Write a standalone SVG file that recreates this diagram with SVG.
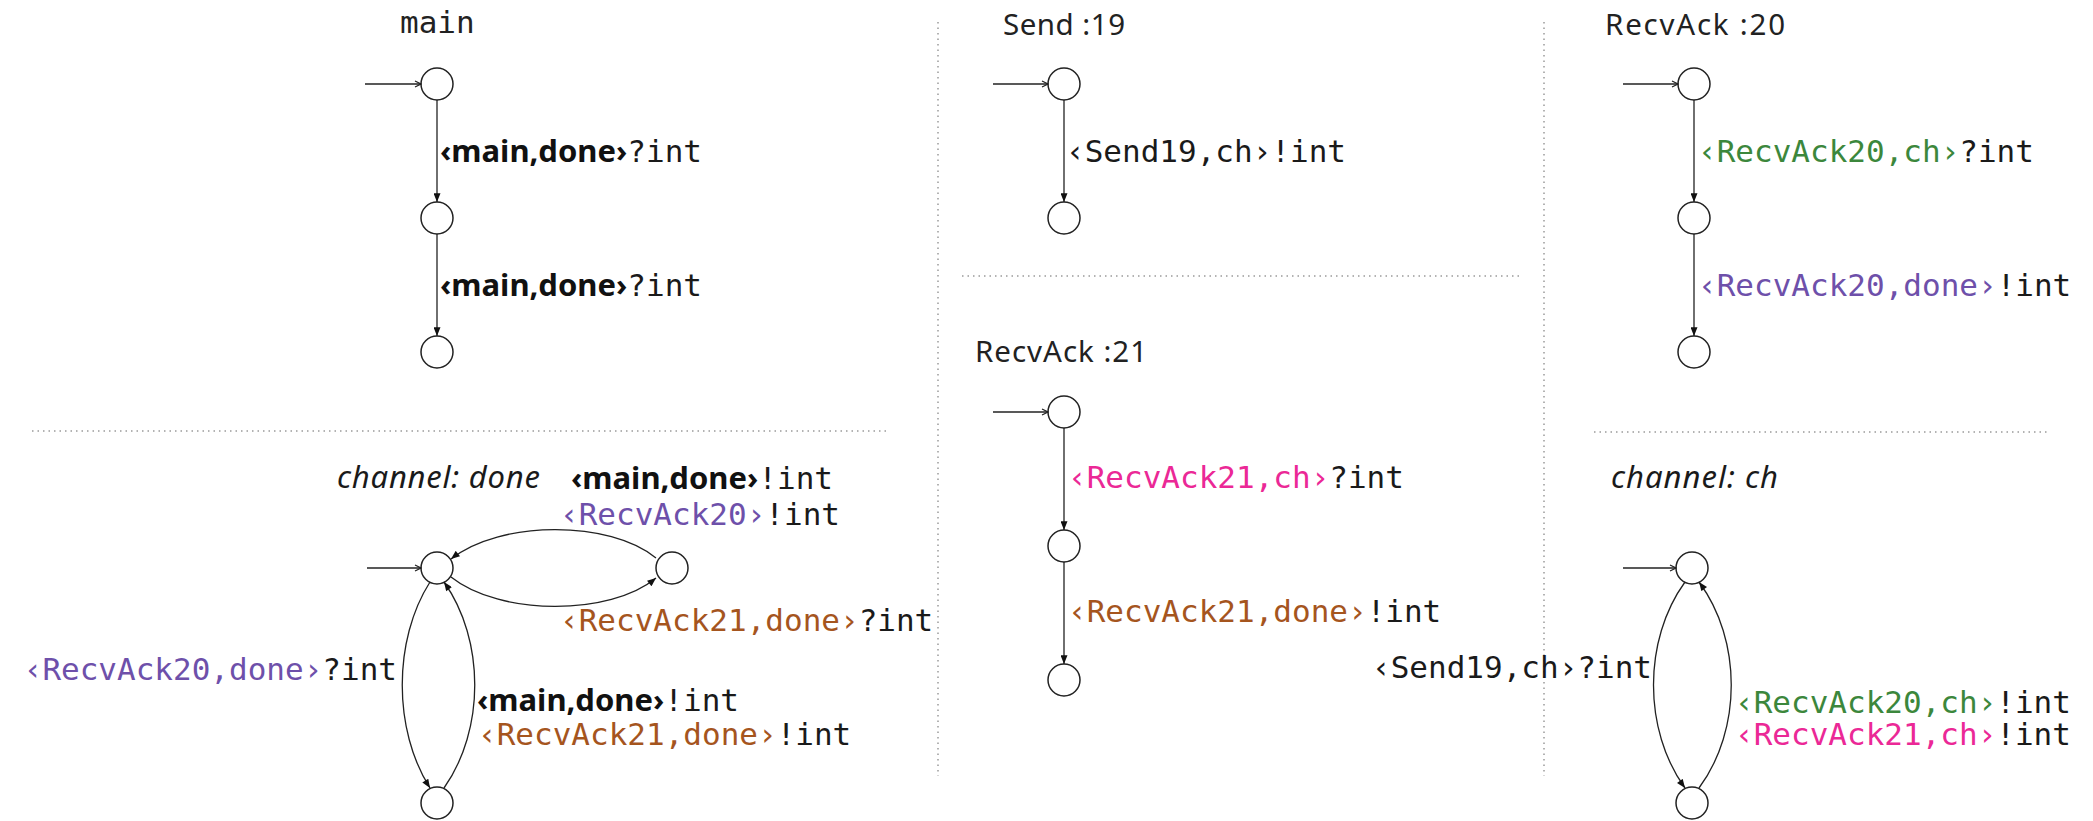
<svg xmlns="http://www.w3.org/2000/svg" width="2093" height="821" viewBox="0 0 2093 821">
  <style>
    .bg { fill: #ffffff; }
    .sep { stroke: #9a9a9a; stroke-width: 1.5; stroke-dasharray: 1.5 4; fill: none; }
    .state { fill: #ffffff; stroke: #222222; stroke-width: 1.5; }
    .edge { fill: none; stroke: #222222; stroke-width: 1.3; }
    .init { fill: none; stroke: #222222; stroke-width: 1.3; }
    .lbl { font-family: "DejaVu Sans Mono", "Liberation Mono", monospace; font-size: 31px; fill: #1a1a1a; }
    .b { font-family: "Noto Sans", "DejaVu Sans", sans-serif; font-weight: bold; font-size: 31px; fill: #111111; }
    .title { font-family: "Noto Sans", "DejaVu Sans", sans-serif; font-size: 29.5px; fill: #222222; }
    .mtitle { font-family: "DejaVu Sans Mono", "Liberation Mono", monospace; font-size: 31px; fill: #222222; }
    .ital { font-family: "Noto Sans", "DejaVu Sans", sans-serif; font-style: italic; font-size: 31px; fill: #1a1a1a; }
    .pur { fill: #6e50aa; }
    .grn { fill: #3c873c; }
    .pnk { fill: #eb2896; }
    .brn { fill: #a5551e; }
  </style>
  <defs>
    <marker id="ah" viewBox="0 0 10 8" refX="10" refY="4" markerWidth="10" markerHeight="7" markerUnits="userSpaceOnUse" orient="auto">
      <path d="M0,0 L10,4 L0,8 z" fill="#111111"/>
    </marker>
    <marker id="open" viewBox="0 0 8 8" refX="7" refY="4" markerWidth="8" markerHeight="8" markerUnits="userSpaceOnUse" orient="auto">
      <path d="M1,1 L7,4 L1,7" fill="none" stroke="#222222" stroke-width="1.2"/>
    </marker>
  </defs>

  <rect class="bg" x="0" y="0" width="2093" height="821"/>

  <!-- panel separators -->
  <g id="separators">
    <line class="sep" x1="32" y1="431" x2="890" y2="431"/>
    <line class="sep" x1="938" y1="22" x2="938" y2="776"/>
    <line class="sep" x1="962" y1="276" x2="1519" y2="276"/>
    <line class="sep" x1="1544" y1="22" x2="1544" y2="776"/>
    <line class="sep" x1="1594" y1="432" x2="2050" y2="432"/>
  </g>

  <!-- panel titles -->
  <g id="titles">
    <text class="mtitle" x="400" y="33">main</text>
    <text class="title" x="1003" y="35" textLength="122" lengthAdjust="spacing">Send :19</text>
    <text class="title" x="1605" y="35" textLength="180" lengthAdjust="spacing">RecvAck :20</text>
    <text class="title" x="975" y="362" textLength="172" lengthAdjust="spacing">RecvAck :21</text>
    <text class="ital" x="337" y="488" textLength="203" lengthAdjust="spacing">channel: done</text>
    <text class="ital" x="1611" y="488" textLength="167" lengthAdjust="spacing">channel: ch</text>
  </g>

  <!-- states -->
  <g id="main-s0"><circle class="state" cx="437" cy="84" r="16"/></g>
  <g id="main-s1"><circle class="state" cx="437" cy="218" r="16"/></g>
  <g id="main-s2"><circle class="state" cx="437" cy="352" r="16"/></g>

  <g id="send19-s0"><circle class="state" cx="1064" cy="84" r="16"/></g>
  <g id="send19-s1"><circle class="state" cx="1064" cy="218" r="16"/></g>

  <g id="recvack20-s0"><circle class="state" cx="1694" cy="84" r="16"/></g>
  <g id="recvack20-s1"><circle class="state" cx="1694" cy="218" r="16"/></g>
  <g id="recvack20-s2"><circle class="state" cx="1694" cy="352" r="16"/></g>

  <g id="recvack21-s0"><circle class="state" cx="1064" cy="412" r="16"/></g>
  <g id="recvack21-s1"><circle class="state" cx="1064" cy="546" r="16"/></g>
  <g id="recvack21-s2"><circle class="state" cx="1064" cy="680" r="16"/></g>

  <g id="done-s0"><circle class="state" cx="437" cy="568" r="16"/></g>
  <g id="done-s1"><circle class="state" cx="672" cy="568" r="16"/></g>
  <g id="done-s2"><circle class="state" cx="437" cy="803" r="16"/></g>

  <g id="ch-s0"><circle class="state" cx="1692" cy="568" r="16"/></g>
  <g id="ch-s1"><circle class="state" cx="1692" cy="803" r="16"/></g>

  <!-- transitions -->
  <g id="connectors">
    <!-- initial-state arrows -->
    <line class="init" x1="365" y1="84" x2="421" y2="84" marker-end="url(#open)"/>
    <line class="init" x1="993" y1="84" x2="1048" y2="84" marker-end="url(#open)"/>
    <line class="init" x1="1623" y1="84" x2="1678" y2="84" marker-end="url(#open)"/>
    <line class="init" x1="993" y1="412" x2="1048" y2="412" marker-end="url(#open)"/>
    <line class="init" x1="367" y1="568" x2="421" y2="568" marker-end="url(#open)"/>
    <line class="init" x1="1623" y1="568" x2="1676" y2="568" marker-end="url(#open)"/>

    <!-- main -->
    <line class="edge" x1="437" y1="100" x2="437" y2="202" marker-end="url(#ah)"/>
    <line class="edge" x1="437" y1="234" x2="437" y2="336" marker-end="url(#ah)"/>
    <!-- Send :19 -->
    <line class="edge" x1="1064" y1="100" x2="1064" y2="202" marker-end="url(#ah)"/>
    <!-- RecvAck :20 -->
    <line class="edge" x1="1694" y1="100" x2="1694" y2="202" marker-end="url(#ah)"/>
    <line class="edge" x1="1694" y1="234" x2="1694" y2="336" marker-end="url(#ah)"/>
    <!-- RecvAck :21 -->
    <line class="edge" x1="1064" y1="428" x2="1064" y2="530" marker-end="url(#ah)"/>
    <line class="edge" x1="1064" y1="562" x2="1064" y2="664" marker-end="url(#ah)"/>

    <!-- channel: done -->
    <path class="edge" d="M656,558 C610,520 500,520 451,559" marker-end="url(#ah)"/>
    <path class="edge" d="M451,577 C500,616 610,616 656,578" marker-end="url(#ah)"/>
    <path class="edge" d="M430,582 C393,640 393,730 430,788" marker-end="url(#ah)"/>
    <path class="edge" d="M444,788 C485,730 485,640 444,582" marker-end="url(#ah)"/>

    <!-- channel: ch -->
    <path class="edge" d="M1685,582 C1643,640 1643,730 1685,788" marker-end="url(#ah)"/>
    <path class="edge" d="M1699,788 C1742,730 1742,640 1699,582" marker-end="url(#ah)"/>
  </g>

  <!-- transition labels -->
  <g id="labels">
    <text class="lbl" x="440" y="162"><tspan class="b">‹main,done›</tspan>?int</text>
    <text class="lbl" x="440" y="296"><tspan class="b">‹main,done›</tspan>?int</text>

    <text class="lbl" x="1066" y="162">‹Send19,ch›!int</text>

    <text class="lbl" x="1698" y="162"><tspan class="grn">‹RecvAck20,ch›</tspan>?int</text>
    <text class="lbl" x="1698" y="296"><tspan class="pur">‹RecvAck20,done›</tspan>!int</text>

    <text class="lbl" x="1068" y="488"><tspan class="pnk">‹RecvAck21,ch›</tspan>?int</text>
    <text class="lbl" x="1068" y="622"><tspan class="brn">‹RecvAck21,done›</tspan>!int</text>

    <text class="lbl" x="571" y="489"><tspan class="b">‹main,done›</tspan>!int</text>
    <text class="lbl" x="560" y="525"><tspan class="pur">‹RecvAck20›</tspan>!int</text>
    <text class="lbl" x="560" y="631"><tspan class="brn">‹RecvAck21,done›</tspan>?int</text>
    <text class="lbl" x="397" y="680" text-anchor="end"><tspan class="pur">‹RecvAck20,done›</tspan>?int</text>
    <text class="lbl" x="477" y="711"><tspan class="b">‹main,done›</tspan>!int</text>
    <text class="lbl" x="478" y="745"><tspan class="brn">‹RecvAck21,done›</tspan>!int</text>

    <text class="lbl" x="1652" y="678" text-anchor="end">‹Send19,ch›?int</text>
    <text class="lbl" x="1735" y="713"><tspan class="grn">‹RecvAck20,ch›</tspan>!int</text>
    <text class="lbl" x="1735" y="745"><tspan class="pnk">‹RecvAck21,ch›</tspan>!int</text>
  </g>
</svg>
